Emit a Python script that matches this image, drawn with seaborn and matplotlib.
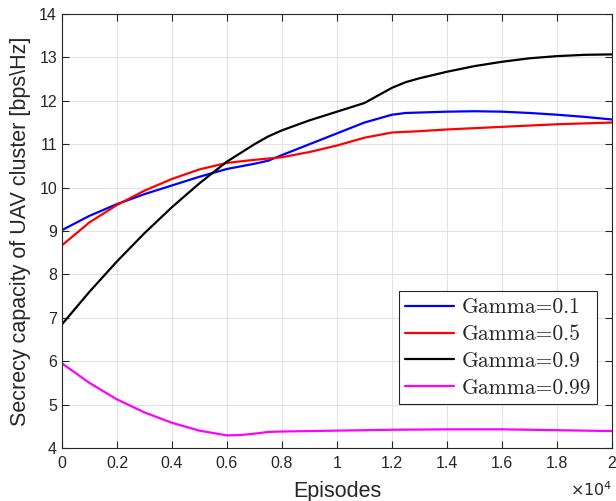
import numpy as np
import pandas as pd
import seaborn as sns
import matplotlib
matplotlib.use("Agg")
import matplotlib.pyplot as plt
from matplotlib.ticker import FuncFormatter

# x positions in units of 1e4 episodes
x_blue = [0, 0.1, 0.2, 0.3, 0.4, 0.5, 0.6, 0.7, 0.75, 0.8, 0.9, 1.0, 1.1, 1.2, 1.25, 1.3, 1.4, 1.5, 1.6, 1.7, 1.8, 1.9, 2.0]
y_blue = [9.02, 9.35, 9.62, 9.85, 10.05, 10.25, 10.43, 10.55, 10.62, 10.75, 11.0, 11.25, 11.5, 11.68, 11.72, 11.73, 11.75, 11.76, 11.75, 11.72, 11.68, 11.63, 11.57]

x_red = [0, 0.1, 0.2, 0.3, 0.4, 0.5, 0.6, 0.7, 0.8, 0.9, 1.0, 1.1, 1.2, 1.3, 1.4, 1.5, 1.6, 1.7, 1.8, 1.9, 2.0]
y_red = [8.67, 9.2, 9.6, 9.93, 10.2, 10.42, 10.57, 10.64, 10.7, 10.82, 10.97, 11.15, 11.27, 11.3, 11.34, 11.37, 11.4, 11.43, 11.46, 11.48, 11.5]

x_black = [0, 0.1, 0.2, 0.3, 0.4, 0.5, 0.6, 0.7, 0.75, 0.8, 0.9, 1.0, 1.1, 1.2, 1.25, 1.3, 1.4, 1.5, 1.6, 1.7, 1.8, 1.9, 2.0]
y_black = [6.85, 7.6, 8.3, 8.95, 9.55, 10.1, 10.6, 11.0, 11.18, 11.32, 11.55, 11.75, 11.95, 12.3, 12.43, 12.52, 12.67, 12.8, 12.9, 12.98, 13.03, 13.06, 13.07]

x_mag = [0, 0.1, 0.2, 0.3, 0.4, 0.5, 0.6, 0.65, 0.7, 0.75, 0.8, 1.0, 1.2, 1.4, 1.6, 1.8, 2.0]
y_mag = [5.95, 5.5, 5.12, 4.82, 4.58, 4.4, 4.29, 4.3, 4.33, 4.37, 4.38, 4.4, 4.42, 4.43, 4.43, 4.41, 4.39]

labels = ["Gamma=0.1", "Gamma=0.5", "Gamma=0.9", "Gamma=0.99"]
colors = ["#0000ff", "#ff0000", "#000000", "#ff00ff"]
x_ticks = [0, 0.2, 0.4, 0.6, 0.8, 1, 1.2, 1.4, 1.6, 1.8, 2]

frames = []
for lab, xs, ys in zip(labels, [x_blue, x_red, x_black, x_mag], [y_blue, y_red, y_black, y_mag]):
    frames.append(pd.DataFrame({"Episodes": np.array(xs) * 1e4, "Capacity": ys, "series": lab}))
df = pd.concat(frames, ignore_index=True)

sns.set_style("white")
plt.rcParams["font.family"] = ["Liberation Sans", "DejaVu Sans"]

fig = plt.figure(figsize=(6.16, 5.01), dpi=100)
ax = fig.add_axes([0.1006, 0.1058, 0.8929, 0.8662])

sns.lineplot(data=df, x="Episodes", y="Capacity", hue="series", hue_order=labels,
             palette=colors, linewidth=1.6, ax=ax, sort=False, estimator=None)

ax.set_xlim(0, 20000)
ax.set_ylim(4, 14)
ax.set_xticks(np.array(x_ticks) * 1e4)
ax.set_yticks(np.arange(4, 15, 1))
ax.xaxis.set_major_formatter(FuncFormatter(lambda v, p: f"{v/1e4:g}"))

ax.grid(True, color="#e3e3e3", linewidth=0.8)
ax.tick_params(direction="in", length=5, width=0.8, colors="#262626", labelsize=11.5,
               top=True, right=True, bottom=True, left=True, labelcolor="#262626")
ax.tick_params(axis="x", pad=6)
for s in ax.spines.values():
    s.set_color("#262626")
    s.set_linewidth(0.8)
    s.set_visible(True)

ax.set_xlabel("Episodes", fontsize=15.5, color="#262626", labelpad=7)
ax.set_ylabel("Secrecy capacity of UAV cluster [bps\\Hz]", fontsize=15.5, color="#262626", labelpad=6)
fig.text(0.994, 0.004, r"$\times10^{4}$", ha="right", va="bottom", fontsize=11.5, color="#262626")

leg = ax.legend(loc="lower right", bbox_to_anchor=(0.973, 0.101),
                prop={"family": ["cmr10", "DejaVu Serif"], "size": 15.5},
                frameon=True, fancybox=False, edgecolor="#262626", framealpha=1,
                handlelength=2.25, handletextpad=0.35, borderpad=0.3, labelspacing=0.34,
                borderaxespad=0)
leg.get_frame().set_linewidth(0.8)

fig.savefig("out.png", dpi=100)
